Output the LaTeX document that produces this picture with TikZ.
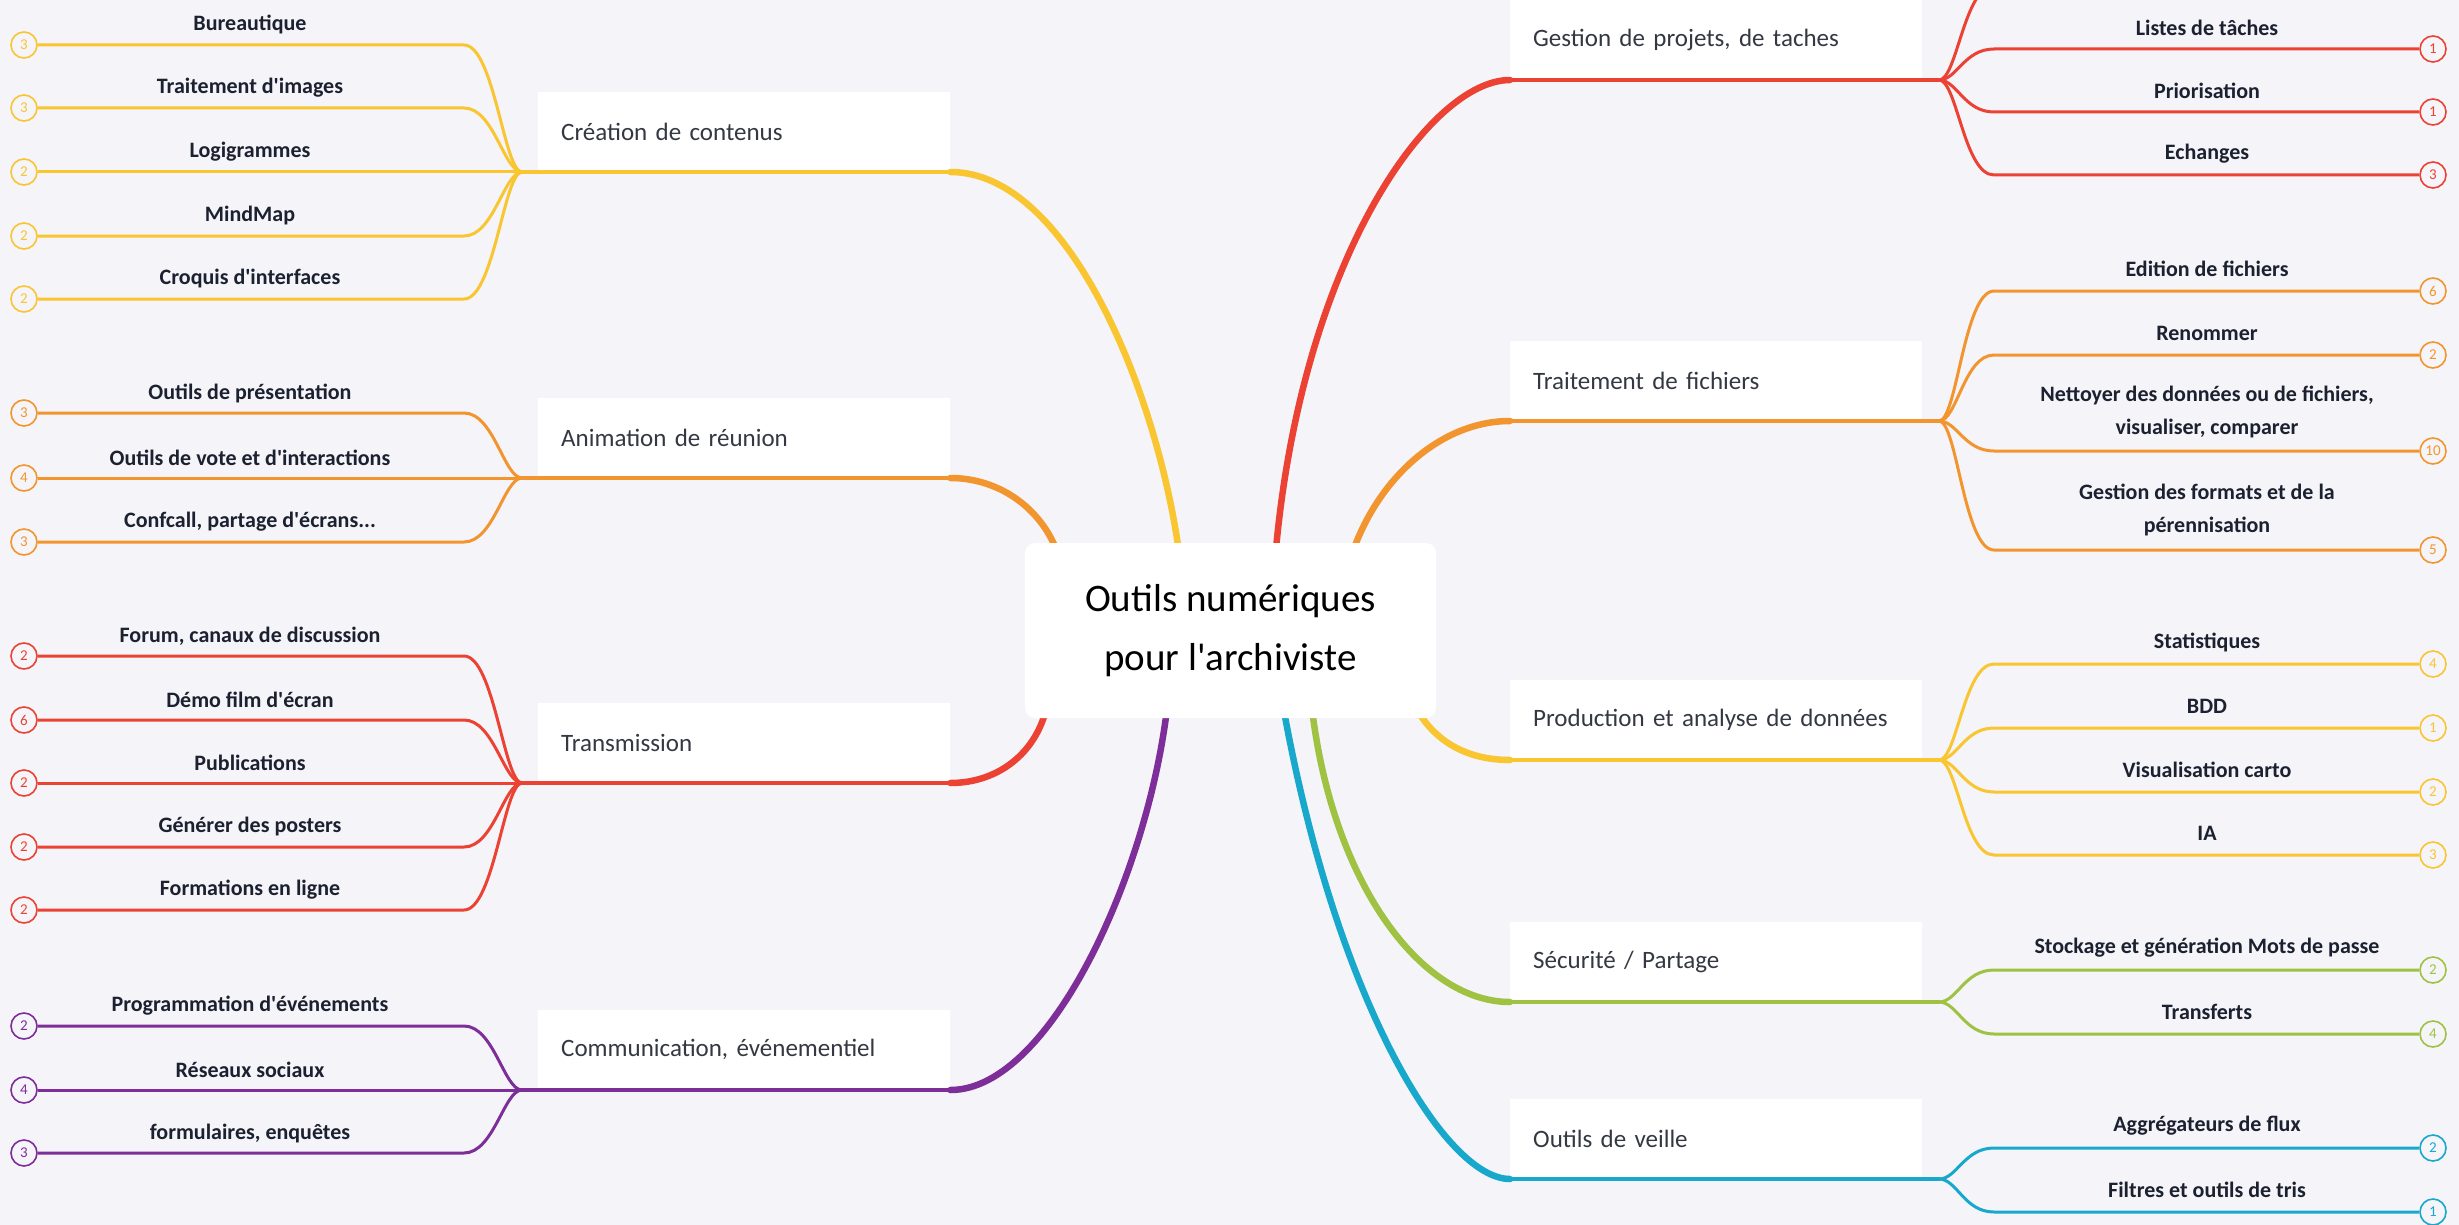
\documentclass[tikz,border=0pt]{standalone}
\usepackage{fontspec}
\setmainfont{Carlito}[Ligatures=TeXOff]
\usetikzlibrary{calc}
\definecolor{bg}{RGB}{244,244,249}
\definecolor{cy}{RGB}{249,197,49}
\definecolor{co}{RGB}{243,149,46}
\definecolor{cr}{RGB}{236,66,52}
\definecolor{cp}{RGB}{126,46,152}
\definecolor{cg}{RGB}{160,194,66}
\definecolor{cb}{RGB}{24,168,204}
\definecolor{tx}{RGB}{28,33,48}
\definecolor{btx}{RGB}{52,56,66}
\tikzset{
  cnt/.style={circle, draw=#1, fill=bg, line width=1.6pt, minimum size=26pt, inner sep=0pt, text=#1, font=\fontsize{15}{15}\selectfont},
  leafline/.style={draw=#1, line width=3pt},
  leaftxt/.style={text=tx, align=center, inner sep=0pt, font=\fontsize{22}{33}\selectfont\bfseries},
  bbox/.style={fill=white, minimum width=412pt, minimum height=80pt, text width=366pt, align=left, inner xsep=23pt, inner ysep=0pt, text=btx, font=\fontsize{25}{30}\selectfont},
  bline/.style={draw=#1, line width=4pt, line cap=round},
  mainline/.style={draw=#1, line width=6.5pt, line cap=round},
  centerbox/.style={fill=white, rounded corners=10pt, minimum width=411pt, minimum height=175pt, align=center, text=black, font=\fontsize{39}{59}\selectfont}
}
% left leaf: name, y line, count, text, color, junction, text y
\newcommand\leafL[7]{%
  \coordinate (h#1) at (464,#2);
  \node[cnt=#5] (c#1) at (24,#2) {#3};
  \node[leaftxt] (t#1) at (250,#7) {#4};
  \draw[leafline=#5] (c#1) -- (h#1) .. controls +(30,0) and +(-18,0) .. (#6);
}
% right leaf
\newcommand\leafR[7]{%
  \coordinate (h#1) at (1994,#2);
  \node[cnt=#5] (c#1) at (2433,#2) {#3};
  \node[leaftxt] (t#1) at (2207,#7) {#4};
  \draw[leafline=#5] (c#1) -- (h#1) .. controls +(-30,0) and +(18,0) .. (#6);
}
\begin{document}
\begin{tikzpicture}[x=1pt,y=-1pt]
\useasboundingbox (0,0) rectangle (2459,1225);
\fill[bg] (0,0) rectangle (2459,1225);
\clip (0,0) rectangle (2459,1225);

% junctions
\coordinate (jc) at (522,172);
\coordinate (ja) at (522,478);
\coordinate (jt) at (522,783);
\coordinate (jm) at (522,1090);
\coordinate (jg) at (1939,80);
\coordinate (jf) at (1939,421);
\coordinate (jp) at (1939,760);
\coordinate (js) at (1939,1002);
\coordinate (jv) at (1939,1179);

% anchors on the central node
\coordinate (ac) at (1180,560);
\coordinate (ag) at (1275,560);
\coordinate (af) at (1350,560);
\coordinate (aa) at (1060,560);
\coordinate (at) at (1048,700);
\coordinate (am) at (1168,700);
\coordinate (ap) at (1412,700);
\coordinate (as) at (1311,700);
\coordinate (av) at (1282,700);

% ---- left leaves
\leafL{c1}{45}{3}{Bureautique}{cy}{jc}{24}
\leafL{c2}{108}{3}{Traitement d'images}{cy}{jc}{88}
\leafL{c3}{172}{2}{Logigrammes}{cy}{jc}{152}
\leafL{c4}{236}{2}{MindMap}{cy}{jc}{216}
\leafL{c5}{299}{2}{Croquis d'interfaces}{cy}{jc}{279}

\leafL{a1}{413}{3}{Outils de présentation}{co}{ja}{393}
\leafL{a2}{478}{4}{Outils de vote et d'interactions}{co}{ja}{458}
\leafL{a3}{542}{3}{Confcall, partage d'écrans...}{co}{ja}{522}

\leafL{t1}{656}{2}{Forum, canaux de discussion}{cr}{jt}{636}
\leafL{t2}{720}{6}{Démo film d'écran}{cr}{jt}{700}
\leafL{t3}{783}{2}{Publications}{cr}{jt}{763}
\leafL{t4}{847}{2}{Générer des posters}{cr}{jt}{827}
\leafL{t5}{910}{2}{Formations en ligne}{cr}{jt}{890}

\leafL{m1}{1026}{2}{Programmation d'événements}{cp}{jm}{1006}
\leafL{m2}{1090}{4}{Réseaux sociaux}{cp}{jm}{1070}
\leafL{m3}{1153}{3}{formulaires, enquêtes}{cp}{jm}{1133}

% ---- right leaves
\leafR{g0}{-14}{}{}{cr}{jg}{-36}
\leafR{g1}{49}{1}{Listes de tâches}{cr}{jg}{28}
\leafR{g2}{112}{1}{Priorisation}{cr}{jg}{91}
\leafR{g3}{175}{3}{Echanges}{cr}{jg}{154}

\leafR{f1}{291}{6}{Edition de fichiers}{co}{jf}{269}
\leafR{f2}{355}{2}{Renommer}{co}{jf}{333}
\leafR{f3}{451}{10}{Nettoyer des données ou de fichiers,\\visualiser, comparer}{co}{jf}{412}
\leafR{f4}{550}{5}{Gestion des formats et de la\\pérennisation}{co}{jf}{510}

\leafR{p1}{664}{4}{Statistiques}{cy}{jp}{642}
\leafR{p2}{728}{1}{BDD}{cy}{jp}{706}
\leafR{p3}{792}{2}{Visualisation carto}{cy}{jp}{770}
\leafR{p4}{855}{3}{IA}{cy}{jp}{833}

\leafR{s1}{970}{2}{Stockage et génération Mots de passe}{cg}{js}{948}
\leafR{s2}{1034}{4}{Transferts}{cg}{js}{1012}

\leafR{v1}{1148}{2}{Aggrégateurs de flux}{cb}{jv}{1126}
\leafR{v2}{1212}{1}{Filtres et outils de tris}{cb}{jv}{1190}

% ---- branch boxes
\node[bbox, anchor=south west] (bc) at (538,172) {Création de contenus};
\node[bbox, anchor=south west] (ba) at (538,478) {Animation de réunion};
\node[bbox, anchor=south west] (bt) at (538,783) {Transmission};
\node[bbox, anchor=south west] (bm) at (538,1090) {Communication, événementiel};
\node[bbox, anchor=south west] (bg) at (1510,80) {Gestion de projets, de taches};
\node[bbox, anchor=south west] (bf) at (1510,421) {Traitement de fichiers};
\node[bbox, anchor=south west] (bp) at (1510,760) {Production et analyse de données};
\node[bbox, anchor=south west] (bs) at (1510,1002) {Sécurité / Partage};
\node[bbox, anchor=south west] (bv) at (1510,1179) {Outils de veille};

% ---- underlines
\draw[bline=cy] (jc) -- (bc.south east);
\draw[bline=co] (ja) -- (ba.south east);
\draw[bline=cr] (jt) -- (bt.south east);
\draw[bline=cp] (jm) -- (bm.south east);
\draw[bline=cr] (bg.south west) -- (jg);
\draw[bline=co] (bf.south west) -- (jf);
\draw[bline=cy] (bp.south west) -- (jp);
\draw[bline=cg] (bs.south west) -- (js);
\draw[bline=cb] (bv.south west) -- (jv);

% ---- main branches
\draw[mainline=cy] (bc.south east) .. controls +(120,0) and (1160,400) .. (ac);
\draw[mainline=co] (ba.south east) .. controls +(50,0) and (1045,510) .. (aa);
\draw[mainline=cr] (bt.south east) .. controls +(50,0) and (1040,750) .. (at);
\draw[mainline=cp] (bm.south east) .. controls +(100,0) and (1150,870) .. (am);
\draw[mainline=cr] (bg.south west) .. controls +(-80,0) and (1300,260) .. (ag);
\draw[mainline=co] (bf.south west) .. controls +(-70,0) and (1375,480) .. (af);
\draw[mainline=cy] (bp.south west) .. controls +(-50,0) and (1428,735) .. (ap);
\draw[mainline=cg] (bs.south west) .. controls +(-90,0) and (1330,880) .. (as);
\draw[mainline=cb] (bv.south west) .. controls +(-65,0) and (1335,1000) .. (av);

% ---- central node
\node[centerbox] (ctr) at (1230.5,630.5) {Outils numériques\\pour l'archiviste};
\end{tikzpicture}
\end{document}
